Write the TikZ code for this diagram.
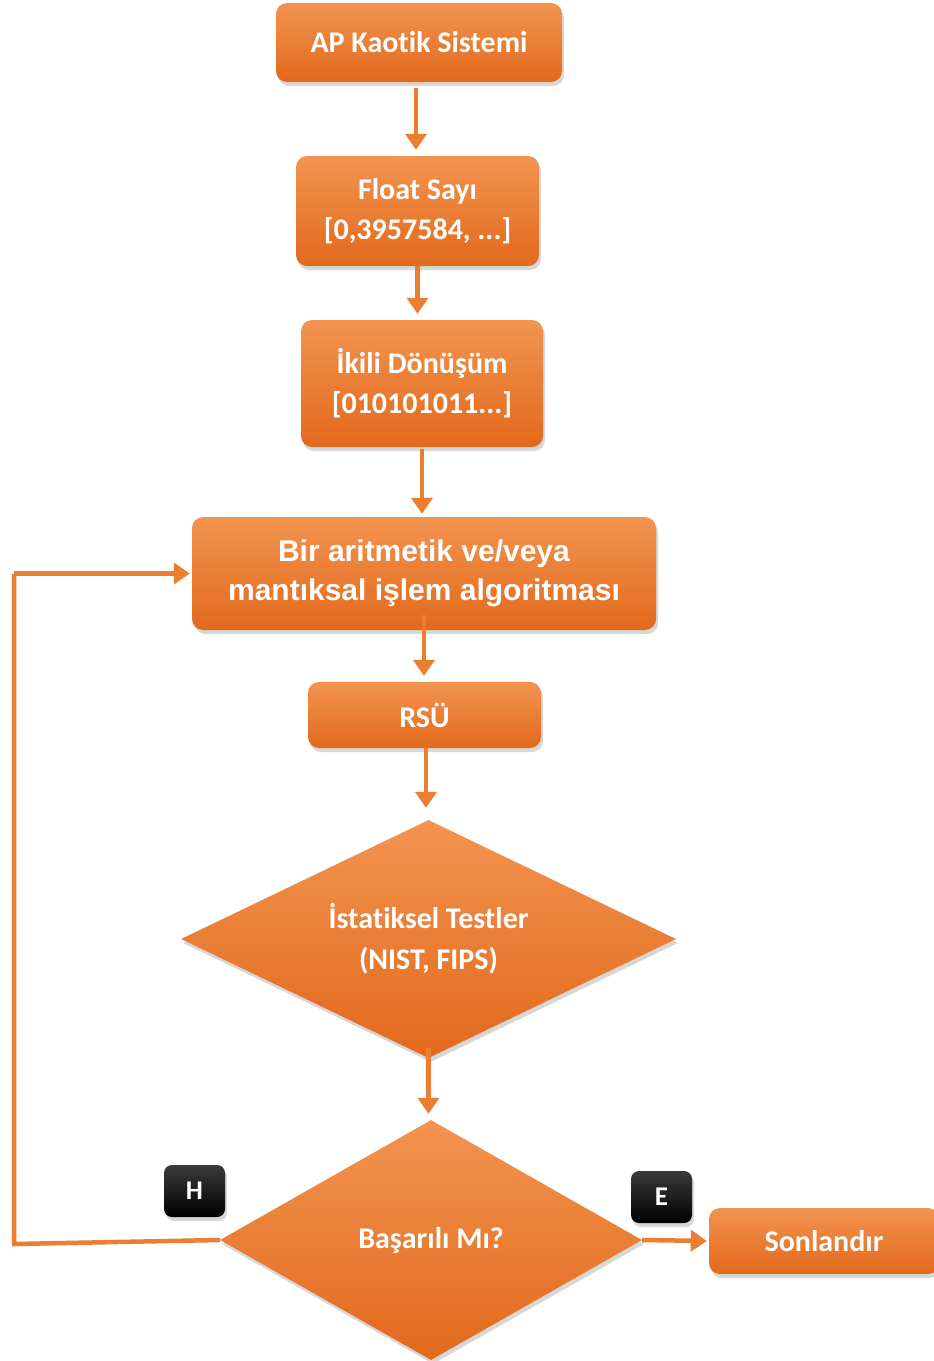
\documentclass[tikz,border=0pt]{standalone}
\usepackage{fontspec}
\setmainfont[Ligatures=NoCommon]{Carlito}
\newfontfamily\arialf{Liberation Sans}
\usetikzlibrary{shapes.geometric,arrows.meta,shadows,calc}
\definecolor{ora}{HTML}{ED7D31}
\definecolor{oratop}{HTML}{F29450}
\definecolor{orabot}{HTML}{E2691C}
\definecolor{lbltop}{HTML}{3A3A3A}
\tikzset{
  shad/.style={drop shadow={shadow xshift=2pt,shadow yshift=-4pt,fill=black!35,opacity=0.45}},
  box/.style={rounded corners=11pt,top color=oratop,bottom color=orabot,draw=none,
    text=white,font=\bfseries\fontsize{30}{40}\selectfont,align=center,inner sep=0pt,shad},
  dia/.style={diamond,top color=oratop,bottom color=orabot,draw=none,
    text=white,font=\bfseries\fontsize{30}{41}\selectfont,align=center,inner sep=0pt,shad},
  lbl/.style={rounded corners=8pt,top color=lbltop,bottom color=black,draw=none,
    text=white,font=\bfseries\fontsize{27}{30}\selectfont,minimum width=61pt,minimum height=52pt,inner sep=0pt,shad},
  conn/.style={draw=ora,line width=4.5pt,-{Triangle[length=16pt,width=21pt]}},
  line/.style={draw=ora,line width=4.5pt}
}
\begin{document}
\begin{tikzpicture}[x=1pt,y=-1pt]
\useasboundingbox (0,0) rectangle (934,1361);
\clip (0,0) rectangle (934,1361);
\node[box,minimum width=286pt,minimum height=79pt] (b1) at (419,42.5) {AP Kaotik Sistemi};
\node[box,minimum width=243pt,minimum height=110pt] (b2) at (417.5,211) {Float Sayı\\{[}0,3957584, ...{]}};
\node[box,minimum width=242pt,minimum height=127pt] (b3) at (422,383.5) {İkili Dönüşüm\\{[}010101011...{]}};
\node[box,minimum width=464pt,minimum height=113pt,font=\arialf\bfseries\fontsize{30}{39}\selectfont] (b4) at (424,573.5) {Bir aritmetik ve/veya\\mantıksal işlem algoritması};
\node[box,minimum width=233pt,minimum height=66pt] (b5) at (424.5,715) {RSÜ};
\node[dia,aspect=2.08,minimum width=495pt,minimum height=238pt] (d1) at (428.5,939) {İstatiksel Testler\\(NIST, FIPS)};
\node[dia,aspect=1.76,minimum width=422pt,minimum height=240pt] (d2) at (431,1240) {Başarılı Mı?};
\node[box,minimum width=230pt,minimum height=66pt] (s) at (824,1241) {Sonlandır};
\node[lbl] (h) at (194.5,1191) {H};
\node[lbl] (e) at (661.5,1197) {E};
\coordinate (c1) at (14,1244);
\coordinate (c2) at (14,573.5);
\draw[conn,shorten <=6pt,shorten >=6pt] ([xshift=-3pt]b1.south) -- ([xshift=-3pt]b1.south |- b2.north);
\draw[conn,shorten >=6pt] (b2.south) -- (b2.south |- b3.north);
\draw[conn,shorten <=2pt,shorten >=3pt] (b3.south) -- (b3.south |- b4.north);
\draw[conn,shorten <=-15pt,shorten >=6pt] (b4.south) -- (b4.south |- b5.north);
\draw[conn,shorten >=12pt] ([xshift=1.5pt]b5.south) -- ([xshift=1.5pt]b5.south |- d1.north);
\draw[conn,shorten <=-10pt,shorten >=6pt] (d1.south) -- (d1.south |- d2.north);
\draw[line] (d2.west) -- (c1) -- (c2);
\draw[conn,shorten >=2pt] (c2) -- (b4.west);
\draw[conn,shorten >=2pt] (d2.east) -- (s.west);
\end{tikzpicture}
\end{document}
